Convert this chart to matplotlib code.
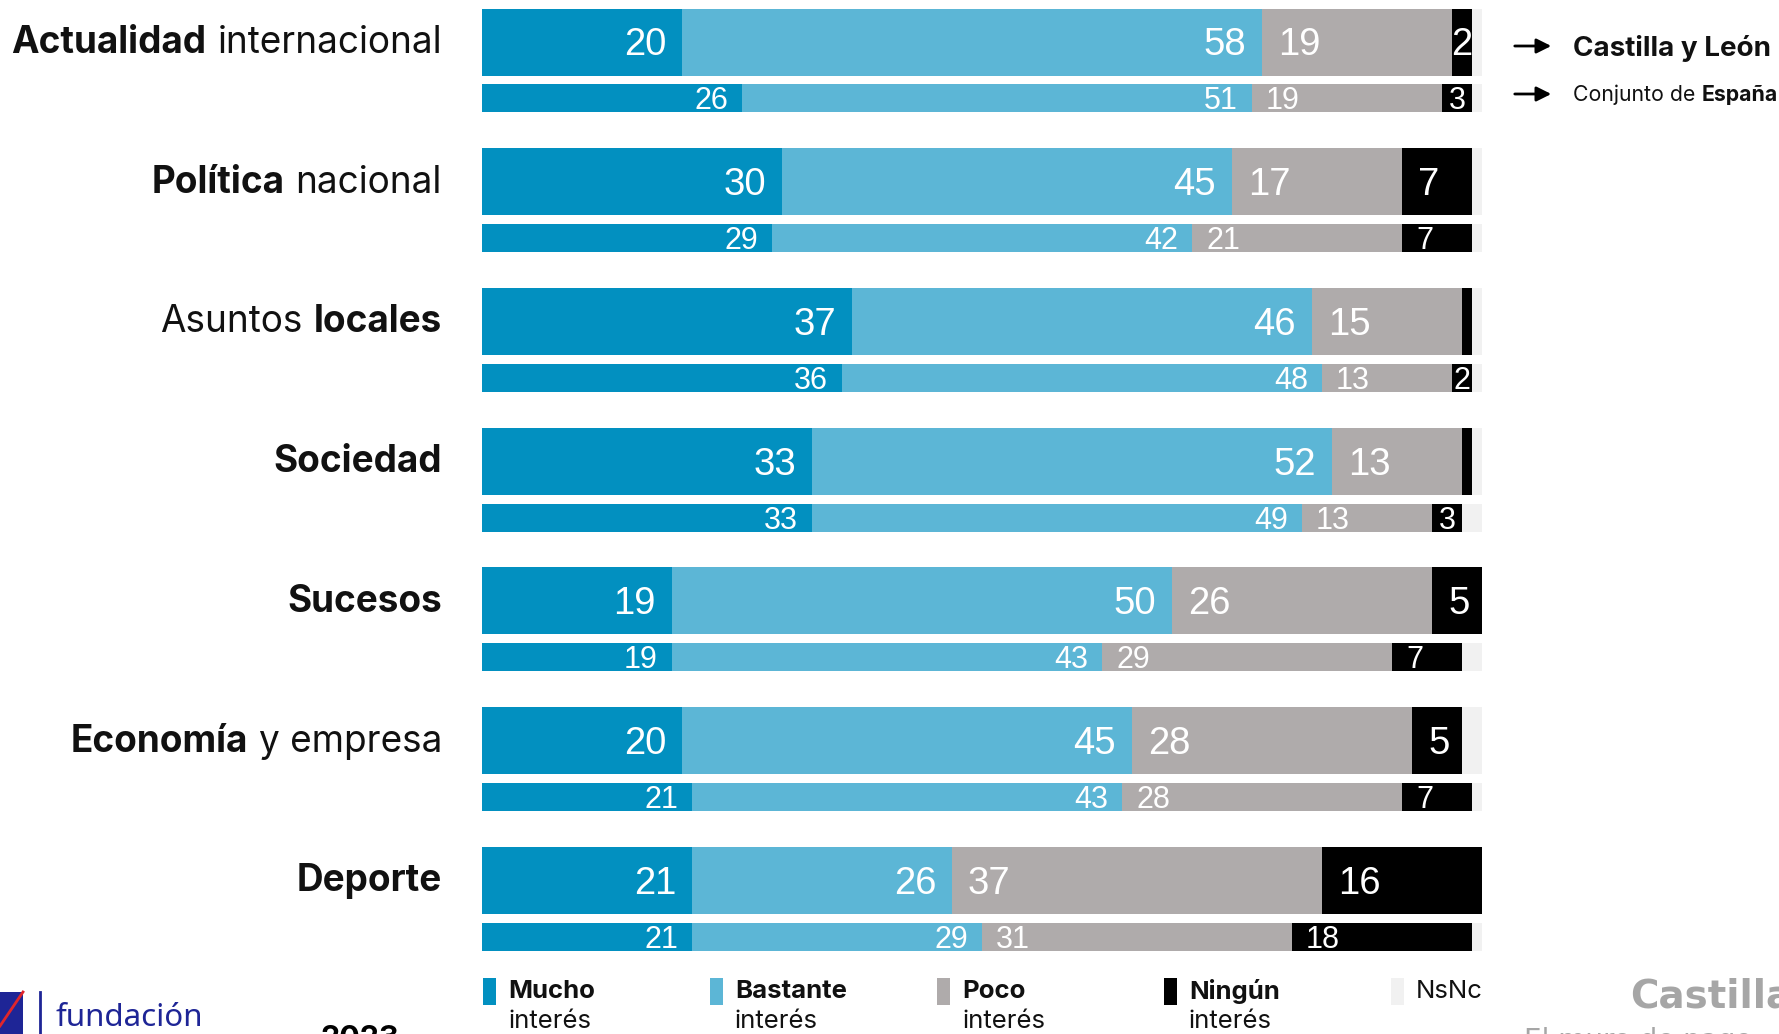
import matplotlib
matplotlib.use("Agg")
import matplotlib.pyplot as plt
import numpy as np

# Interes por tipo de noticia: Castilla y Leon (barra gruesa) vs Espana (barra fina)
categories = [
    [("Actualidad", True), ("internacional", False)],
    [("Política", True), ("nacional", False)],
    [("Asuntos", False), ("locales", True)],
    [("Sociedad", True)],
    [("Sucesos", True)],
    [("Economía", True), ("y empresa", False)],
    [("Deporte", True)],
]
cyl_mucho = [20, 30, 37, 33, 19, 20, 21]
cyl_bastante = [58, 45, 46, 52, 50, 45, 26]
cyl_poco = [19, 17, 15, 13, 26, 28, 37]
cyl_ningun = [2, 7, 1, 1, 5, 5, 16]
esp_mucho = [26, 29, 36, 33, 19, 21, 21]
esp_bastante = [51, 42, 48, 49, 43, 43, 29]
esp_poco = [19, 21, 13, 13, 29, 28, 31]
esp_ningun = [3, 7, 2, 3, 7, 7, 18]

legend_bold = ["Mucho", "Bastante", "Poco", "Ningún", ""]
legend_rest = ["interés", "interés", "interés", "interés", "NsNc"]
colors = ["#0290c0", "#5cb6d6", "#afabab", "#000000", "#f1f1f1"]

W, H = 1779, 1034
fig = plt.figure(figsize=(W / 100, H / 100), dpi=100)
fig.patch.set_facecolor("white")

# overlay in pixel coordinates for texts and decorations
ov = fig.add_axes([0, 0, 1, 1])
ov.set_xlim(0, W)
ov.set_ylim(H, 0)
ov.axis("off")

# bar axes: 0-100 % mapped to x 482..1482 px
pitch = 139.7
ax = fig.add_axes([482 / W, 0, 1000 / W, 1])
ax.set_xlim(0, 100)
ax.set_ylim((H - 42) / pitch, -42 / pitch)
ax.axis("off")

NUMFONT = "Liberation Sans"


def draw_row(vals, y, h, fs, pad, cap):
    vals = np.array(vals, dtype=float)
    full = np.append(vals, 100 - vals.sum())
    left = 0.0
    for k, v in enumerate(full):
        if v > 0:
            ax.barh(y, v, left=left, height=h, color=colors[k], linewidth=0)
        ty = y + cap
        if k in (0, 1):
            ax.text(left + v - pad, ty, f"{int(v)}", ha="right", va="baseline",
                    color="white", fontsize=fs, family=NUMFONT)
        elif k == 2:
            ax.text(left + pad, ty, f"{int(v)}", ha="left", va="baseline",
                    color="white", fontsize=fs, family=NUMFONT)
        elif k == 3 and v >= 2:
            if v >= 4:
                ax.text(left + pad, ty, f"{int(v)}", ha="left", va="baseline",
                        color="white", fontsize=fs, family=NUMFONT)
            else:
                ax.text(left + v / 2, ty, f"{int(v)}", ha="center", va="baseline",
                        color="white", fontsize=fs, family=NUMFONT)
        left += v


small_off = 56.5 / pitch
for i in range(len(categories)):
    draw_row([cyl_mucho[i], cyl_bastante[i], cyl_poco[i], cyl_ningun[i]],
             i, 67 / pitch, 27.5, 1.6, 13.5 / pitch)
    draw_row([esp_mucho[i], esp_bastante[i], esp_poco[i], esp_ningun[i]],
             i + small_off, 28 / pitch, 22, 1.4, 11 / pitch)

renderer = fig.canvas.get_renderer()


def mixed_right(parts, x_right, y, fs, family="Inter", gap=11, color="#111111"):
    x = x_right
    for txt, bold in reversed(parts):
        t = ov.text(x, y, txt, ha="right", va="center", fontsize=fs, family=family,
                    fontweight="bold" if bold else "normal", color=color)
        bb = t.get_window_extent(renderer)
        x -= bb.width + gap


def mixed_left(parts, x_left, y, fs, family="Inter", gap=6, color="#111111"):
    x = x_left
    for txt, bold in parts:
        t = ov.text(x, y, txt, ha="left", va="center", fontsize=fs, family=family,
                    fontweight="bold" if bold else "normal", color=color)
        bb = t.get_window_extent(renderer)
        x += bb.width + gap


for i, parts in enumerate(categories):
    mixed_right(parts, 442, 42 + i * pitch + 1, 26.6)

# top-right key
for yy in (46, 94):
    ov.annotate("", xy=(1554, yy), xytext=(1512, yy),
                arrowprops=dict(arrowstyle="-|>", color="black", lw=2, mutation_scale=22))
mixed_left([("Castilla y León", True)], 1573, 48, 20)
mixed_left([("Conjunto de", False), ("España", True)], 1573, 95, 15.3, gap=6)

# bottom legend
leg_x = [483, 710, 937, 1164, 1391]
for k in range(5):
    ov.add_patch(plt.Rectangle((leg_x[k], 978), 13, 27, color=colors[k], lw=0))
    if legend_bold[k]:
        ov.text(leg_x[k] + 25, 991, legend_bold[k], ha="left", va="center",
                fontsize=18.5, family="Inter", fontweight="bold", color="#111111")
        ov.text(leg_x[k] + 25, 1022, legend_rest[k], ha="left", va="center",
                fontsize=18.5, family="Inter", color="#111111")
    else:
        ov.text(leg_x[k] + 25, 991, legend_rest[k], ha="left", va="center",
                fontsize=18.5, family="Inter", color="#111111")

# footer: logo and source text (cropped in the original)
ov.add_patch(plt.Rectangle((0, 992), 23, 50, color="#1e2596", lw=0))
ov.plot([0, 23], [1026, 992], color="#e0252b", lw=2)
ov.plot([40, 40], [992, 1040], color="#1e2596", lw=2)
ov.text(55, 1026, "fundación", ha="left", va="baseline", fontsize=22.5,
        family="Noto Sans", color="#1e2596")
ov.text(320, 1025, "2023", ha="left", va="top", fontsize=22,
        family="Inter", fontweight="bold", color="black")
ov.text(1630, 1008, "Castilla", ha="left", va="baseline", fontsize=28,
        family="DejaVu Sans", fontweight="bold", color="#a6a6a6")
ov.text(1524, 1027, "El muro de pago", ha="left", va="top", fontsize=20,
        family="DejaVu Sans", color="#a6a6a6")

fig.savefig("out.png", dpi=100, facecolor="white")
